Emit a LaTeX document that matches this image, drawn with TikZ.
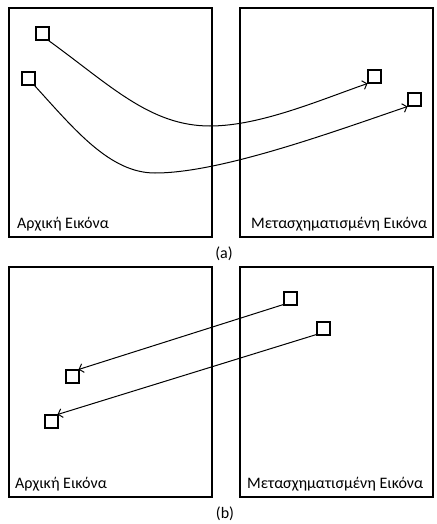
\documentclass[tikz,border=0pt]{standalone}
\usepackage{fontspec}
\setmainfont{Carlito}
\usetikzlibrary{arrows.meta}
\tikzset{
  frame/.style={draw, line width=2pt},
  sq/.style={draw, line width=2pt, minimum size=13pt, inner sep=0pt, outer sep=0pt},
  curve/.style={line width=1pt},
  link/.style={curve, -{Straight Barb[length=4pt,width=9pt]}},
  lbl/.style={anchor=base west, inner sep=0pt, font=\fontsize{16}{19}\selectfont},
  captext/.style={inner sep=0pt, font=\fontsize{16}{19}\selectfont}
}
\begin{document}
\begin{tikzpicture}[x=1pt, y=-1pt]
\useasboundingbox (0,0) rectangle (436,524);
% (a)
\draw[frame] (9,8) rectangle (212,237);
\draw[frame] (240,8) rectangle (433,237);
\node[sq] (s1) at (42,34) {};
\node[sq] (s2) at (28,79) {};
\node[sq] (s3) at (374,77) {};
\node[sq] (s4) at (414,100) {};
\coordinate (m1) at (210,126);
\coordinate (m2) at (155,173);
\draw[curve] (s1.south east) .. controls (110,85) and (150,126) .. (m1);
\draw[link] (m1) .. controls (260,126) and (320,100) .. (s3.south west);
\draw[curve] (s2.south east) .. controls (75,130) and (110,173) .. (m2);
\draw[link] (m2) .. controls (220,173) and (330,133) .. (s4.south west);
\node[lbl] (la1) at (17,228) {Αρχική Εικόνα};
\node[lbl] (la2) at (251,228) {Μετασχηματισμένη Εικόνα};
\node[captext] (ca) at (224,254) {(a)};
% (b)
\draw[frame] (9,267) rectangle (212,497);
\draw[frame] (240,267) rectangle (433,497);
\node[sq] (s5) at (290,298) {};
\node[sq] (s6) at (323,328) {};
\node[sq] (s7) at (72,376) {};
\node[sq] (s8) at (51,421) {};
\draw[link] (s5.south west) -- (s7.north east);
\draw[link] (s6.south west) -- (s8.north east);
\node[lbl] (lb1) at (15,488) {Αρχική Εικόνα};
\node[lbl] (lb2) at (247,488) {Μετασχηματισμένη Εικόνα};
\node[captext] (cb) at (225,514) {(b)};
\end{tikzpicture}
\end{document}
